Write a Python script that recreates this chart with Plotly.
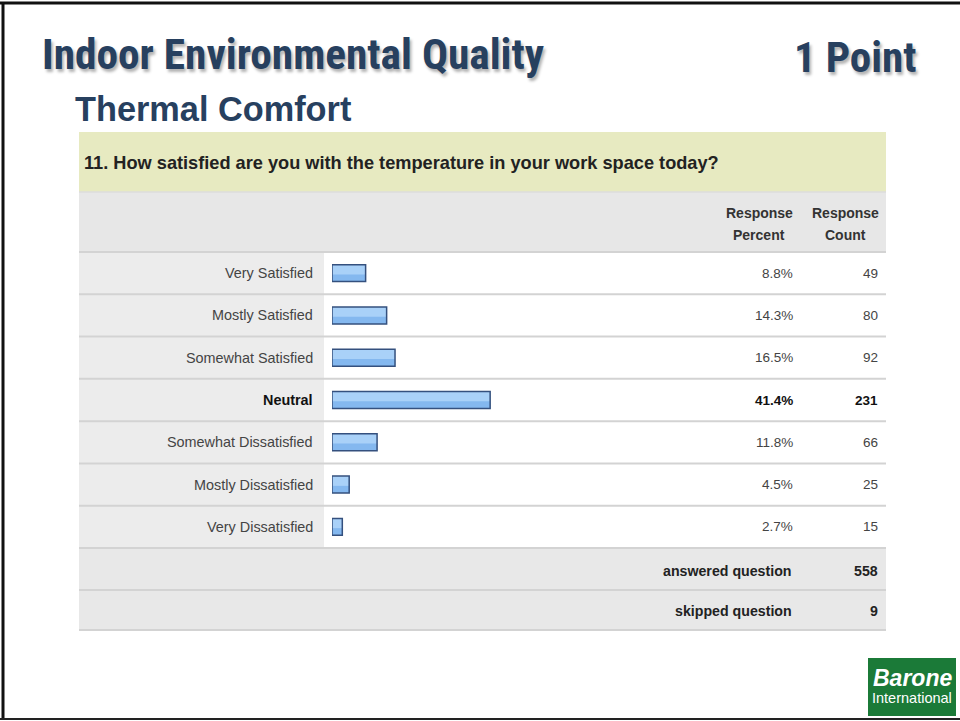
import plotly.graph_objects as go

# ---------------- data ----------------
categories = ["Very Satisfied", "Mostly Satisfied", "Somewhat Satisfied", "Neutral",
              "Somewhat Dissatisfied", "Mostly Dissatisfied", "Very Dissatisfied"]
percent = [8.8, 14.3, 16.5, 41.4, 11.8, 4.5, 2.7]
counts = [49, 80, 92, 231, 66, 25, 15]
highlight = "Neutral"
answered_question = 558
skipped_question = 9

title_text = "Indoor Environmental Quality"
points_text = "1 Point"
subtitle_text = "Thermal Comfort"
question_text = "11. How satisfied are you with the temperature in your work space today?"

# ---------------- layout helpers ----------------
W, H = 960, 721


def px(x):
    return x / W


def py(y):
    return 1 - y / H


NAVY = "#27405f"
TXT = "#3a3a3a"
FONT = "Liberation Sans, Arial, sans-serif"
COND = "Roboto Condensed, Roboto, Liberation Sans, sans-serif"

fig = go.Figure()
# gradient-like bars: light body, darker lower half, dark outline on top
fig.add_trace(go.Bar(x=percent, y=categories, orientation="h", width=0.4, offset=-0.2,
                     marker=dict(color="#a9d1f8", line=dict(width=0)),
                     hoverinfo="skip", showlegend=False))
fig.add_trace(go.Bar(x=percent, y=categories, orientation="h", width=0.17, offset=0.03,
                     marker=dict(color="#84b8ef", line=dict(width=0)),
                     hoverinfo="skip", showlegend=False))
fig.add_trace(go.Bar(x=percent, y=categories, orientation="h", width=0.4, offset=-0.2,
                     marker=dict(color="rgba(0,0,0,0)", line=dict(color="#34507e", width=1.5)),
                     hoverinfo="skip", showlegend=False))

shapes = []


def rect(x0, y0, x1, y1, color):
    shapes.append(dict(type="rect", xref="paper", yref="paper", x0=px(x0), x1=px(x1),
                       y0=py(y1), y1=py(y0), fillcolor=color, line=dict(width=0), layer="below"))


def hline(x0, x1, y, color, w):
    shapes.append(dict(type="line", xref="paper", yref="paper", x0=px(x0), x1=px(x1),
                       y0=py(y), y1=py(y), line=dict(color=color, width=w), layer="below"))


# table backgrounds
TL, TR = 79, 886
rect(TL, 132, TR, 192, "#e7eac1")          # question band
rect(TL, 192, TR, 252, "#e7e7e7")          # header band
rect(TL, 252, 324, 548, "#ececec")         # label column
rect(324, 252, TR, 548, "#ffffff")
rect(TL, 548, TR, 630, "#e8e8e8")          # footer rows
row_edges = [252 + i * (548 - 252) / 7 for i in range(8)]
for y in row_edges + [590, 630]:
    hline(TL, TR, y, "#d3d3d3", 2)
hline(TL, TR, 192, "#dcdcdc", 1.5)

# slide border
shapes.append(dict(type="line", xref="paper", yref="paper", x0=0, x1=1, y0=py(3), y1=py(3),
                   line=dict(color="#111111", width=3)))
shapes.append(dict(type="line", xref="paper", yref="paper", x0=px(3), x1=px(3), y0=py(2), y1=py(719),
                   line=dict(color="#111111", width=3)))
shapes.append(dict(type="line", xref="paper", yref="paper", x0=0, x1=1, y0=py(719), y1=py(719),
                   line=dict(color="#222222", width=2)))
# logo box
rect(868, 658, 956, 716, "#1b7a38")

ann = []


def text(x, y, s, size, color=TXT, anchor="left", bold=False, family=FONT, shadow=None):
    f = dict(size=size, color=color, family=family)
    if shadow:
        f["shadow"] = shadow
    ann.append(dict(xref="paper", yref="paper", x=px(x), y=py(y),
                    text=("<b>%s</b>" % s) if bold else s, showarrow=False, xanchor=anchor,
                    yanchor="middle", font=f))


SH = "2px 3px 3px rgba(0,0,0,0.30)"
text(40, 55, title_text, 43.3, color=NAVY, bold=True, family=COND, shadow=SH)
text(918, 57, points_text, 43, color=NAVY, anchor="right", bold=True, family=COND, shadow=SH)
text(73, 109, subtitle_text, 34.3, color=NAVY, bold=True)

text(82, 163, question_text, 18.2, color="#222222", bold=True)
text(759, 213, "Response", 14, color="#333333", anchor="center", bold=True)
text(759, 235, "Percent", 14, color="#333333", anchor="center", bold=True)
text(845, 213, "Response", 14, color="#333333", anchor="center", bold=True)
text(845, 235, "Count", 14, color="#333333", anchor="center", bold=True)

for c, p, n in zip(categories, percent, counts):
    b = c == highlight
    col = "#111111" if b else "#444444"
    ann.append(dict(xref="paper", yref="y", x=px(315), y=c, text=("<b>%s</b>" % c) if b else c,
                    showarrow=False, xanchor="right", yanchor="middle",
                    font=dict(size=14.4, color=col, family=FONT)))
    ann.append(dict(xref="paper", yref="y", x=px(795), y=c, text=("<b>%.1f%%</b>" if b else "%.1f%%") % p,
                    showarrow=False, xanchor="right", yanchor="middle",
                    font=dict(size=13.5, color=col, family=FONT)))
    ann.append(dict(xref="paper", yref="y", x=px(880), y=c, text=("<b>%d</b>" if b else "%d") % n,
                    showarrow=False, xanchor="right", yanchor="middle",
                    font=dict(size=13.5, color=col, family=FONT)))

text(794, 571, "answered question", 14.2, color="#222222", anchor="right", bold=True)
text(880, 571, str(answered_question), 14.2, color="#222222", anchor="right", bold=True)
text(794, 611, "skipped question", 14.2, color="#222222", anchor="right", bold=True)
text(880, 611, str(skipped_question), 14.2, color="#222222", anchor="right", bold=True)

# logo text
text(912, 678, "<i>Barone</i>", 23, color="#ffffff", anchor="center", bold=True)
text(912, 698, "International", 14.5, color="#ffffff", anchor="center")

fig.update_layout(
    width=W, height=H, margin=dict(l=0, r=0, t=0, b=0),
    paper_bgcolor="#ffffff", plot_bgcolor="rgba(0,0,0,0)",
    shapes=shapes, annotations=ann, barmode="overlay",
    xaxis=dict(domain=[px(332), px(714)], range=[0, 100], visible=False, fixedrange=True),
    yaxis=dict(domain=[py(548), py(252)], type="category", categoryorder="array",
               categoryarray=categories, range=[6.5, -0.5], visible=False, fixedrange=True),
)
fig.write_html("out.html", config={"displayModeBar": False},
               post_script="document.body.style.margin='0';document.body.style.overflow='hidden';")
